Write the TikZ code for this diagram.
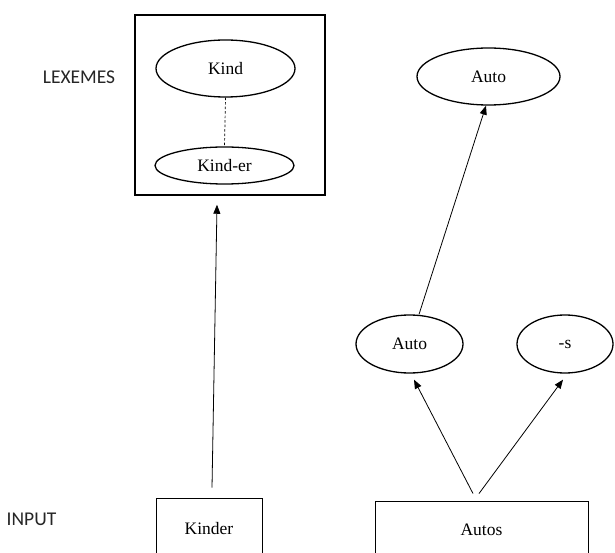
\documentclass[tikz,border=0pt]{standalone}
\usepackage{fontspec}
\setmainfont{Liberation Serif}
\newfontfamily\labelfont{Carlito}
\usetikzlibrary{shapes.geometric,arrows.meta}
\tikzset{
  ell/.style={ellipse,draw,line width=1.3pt,inner sep=0pt,font=\fontsize{17.5}{20}\selectfont},
  inbox/.style={rectangle,draw,line width=0.9pt,inner sep=0pt,font=\fontsize{17.5}{20}\selectfont},
  lexframe/.style={rectangle,draw,line width=1.5pt,inner sep=0pt,minimum width=190pt,minimum height=180pt},
  sidelabel/.style={font=\labelfont\fontsize{19.5}{22}\selectfont,text=black!85},
  arr/.style={line width=0.8pt,-{Triangle[length=9pt,width=7pt]}},
  dashline/.style={line width=0.7pt,dash pattern=on 2.5pt off 2pt}
}
\begin{document}
\begin{tikzpicture}[x=1pt,y=1pt]
\clip (0,0) rectangle (615,552);
\fill[white] (0,0) rectangle (615,552);
% lexeme box
\node[lexframe] (lexbox) at (230,447) {};
\node[ell,minimum width=139pt,minimum height=57pt] (kind) at (225.5,483.5) {Kind};
\node[ell,minimum width=139pt,minimum height=37pt] (kinder) at (224.5,386.5) {Kind-er};
\draw[dashline] (kind.south) -- (kinder.north);
% input boxes
\node[inbox,minimum width=106pt,minimum height=62pt] (kinderin) at (209,23) {Kinder};
\node[inbox,minimum width=213pt,minimum height=58pt] (autos) at (481.5,22) {Autos};
% right side ellipses
\node[ell,minimum width=143pt,minimum height=57pt] (autotop) at (488.5,475.5) {Auto};
\node[ell,minimum width=107pt,minimum height=58pt] (automid) at (409.5,208) {Auto};
\node[ell,minimum width=96pt,minimum height=58pt] (suffix) at (565,208) {-s};
% side labels
\node[sidelabel] (lexlabel) at (79,475) {LEXEMES};
\node[sidelabel] (inputlabel) at (31.5,33) {INPUT};
% arrows
\draw[arr] ([shift={(3,10)}]kinderin.north) -- ([shift={(-13,-9)}]lexbox.south);
\draw[arr] ([xshift=9.5pt]automid.north) -- ([xshift=-2.5pt]autotop.south);
\draw[arr] ([shift={(-8.5,7)}]autos.north) -- ([shift={(4.5,-6)}]automid.south);
\draw[arr] ([shift={(-2.5,7)}]autos.north) -- ([shift={(-2,-6)}]suffix.south);
\end{tikzpicture}
\end{document}
